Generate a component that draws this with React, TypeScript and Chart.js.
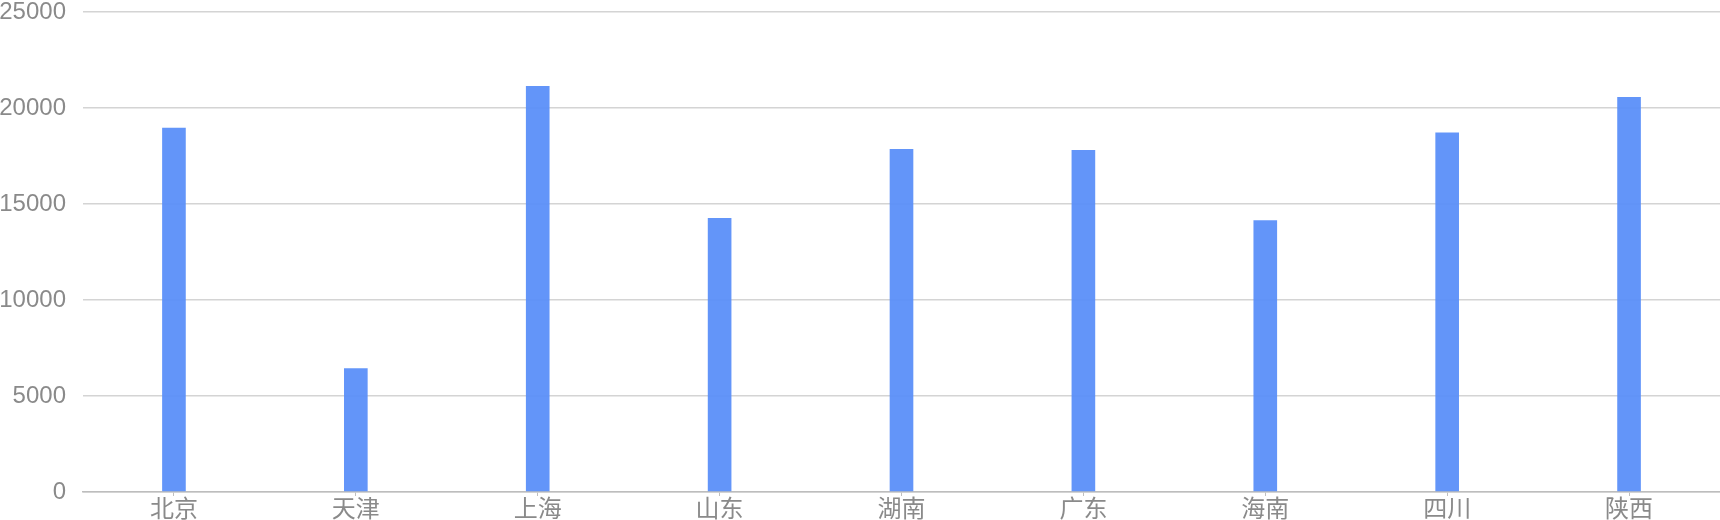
import React, { useEffect, useRef } from "react";
import { Chart, registerables } from "chart.js";

Chart.register(...registerables);

const categories = ["北京", "天津", "上海", "山东", "湖南", "广东", "海南", "四川", "陕西"];
const values = [18970, 6440, 21150, 14270, 17860, 17810, 14150, 18730, 20570];
const yTicks = [0, 5000, 10000, 15000, 20000, 25000];

const FONT = "'Liberation Sans', Arial, 'Noto Sans CJK SC', sans-serif";

export default function App() {
  const ref = useRef<HTMLCanvasElement | null>(null);

  useEffect(() => {
    document.body.style.margin = "0";
    const canvas = ref.current;
    if (!canvas) return;
    const chart = new Chart(canvas, {
      type: "bar",
      data: {
        labels: categories,
        datasets: [
          {
            data: values,
            backgroundColor: "rgba(91,143,249,0.95)",
            borderWidth: 0,
            categoryPercentage: 0.13,
            barPercentage: 1,
          },
        ],
      },
      options: {
        animation: false,
        responsive: false,
        maintainAspectRatio: false,
        layout: { padding: { top: 12, left: 0, right: 0, bottom: 0 } },
        plugins: { legend: { display: false }, tooltip: { enabled: false } },
        scales: {
          x: {
            offset: true,
            grid: {
              display: true,
              drawOnChartArea: false,
              drawTicks: true,
              tickLength: 4,
              color: "#bfbfbf",
              offset: false,
            },
            border: { display: true, color: "#bdbdbd", width: 1.5 },
            ticks: {
              color: "#8a8a8a",
              font: { family: FONT, size: 24 },
              padding: 0,
              maxRotation: 0,
              autoSkip: false,
            },
            afterFit: (scale: any) => {
              scale.height = 28;
              scale.paddingLeft = 0;
              scale.paddingRight = 0;
            },
          },
          y: {
            min: 0,
            max: 25000,
            afterBuildTicks: (scale: any) => {
              scale.ticks = yTicks.map((v) => ({ value: v }));
            },
            grid: { color: "#d4d4d4", drawTicks: false, lineWidth: 1.5 },
            border: { display: false },
            ticks: {
              color: "#8a8a8a",
              font: { family: FONT, size: 24 },
              padding: 17,
              callback: (v: any) => String(v),
            },
            afterFit: (scale: any) => {
              scale.width = 83;
              scale.paddingTop = 0;
              scale.paddingBottom = 0;
            },
          },
        },
      },
    });
    return () => chart.destroy();
  }, []);

  return <canvas ref={ref} width={1720} height={520} style={{ display: "block" }} />;
}
